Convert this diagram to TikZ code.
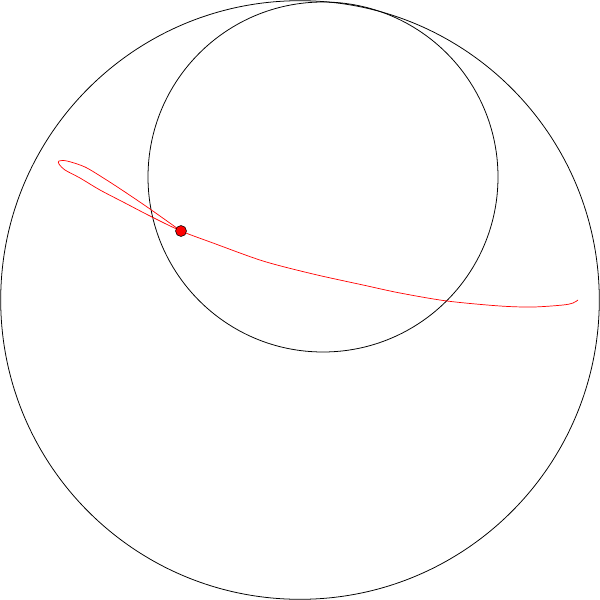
\documentclass[tikz,border=0pt]{standalone}
\begin{document}
\begin{tikzpicture}[x=0.05cm, y=-0.05cm, line width=1.1pt,
  kreis/.style={black},
  spur/.style={red, line width=1pt},
  stift/.style={circle, draw=black, fill=red, inner sep=0pt, minimum size=0.55cm, line width=0.8pt}]
  \useasboundingbox (0,0) rectangle (600,600);
  % grosser Kreis und rollender Kreis
  \draw[kreis] (300,300) circle (299.3);
  \draw[kreis] (323,177) circle (175);
  % Spur des Stiftes
  \draw[spur] plot[smooth, tension=0.5] coordinates {
    (578,300) (573,303) (563,305) (533,307) (500,306) (447,301) (400,293)
    (363,285) (313,274) (263,261) (213,243) (181,231)
    (150,216) (125,203) (100,190) (80,178) (65,170) (59,164) (59,161)
    (67,161) (85,167) (105,179) (125,192) (150,209) (181,231)};
  % Stift
  \node[stift] (punkt) at (181,231) {};
\end{tikzpicture}
\end{document}
